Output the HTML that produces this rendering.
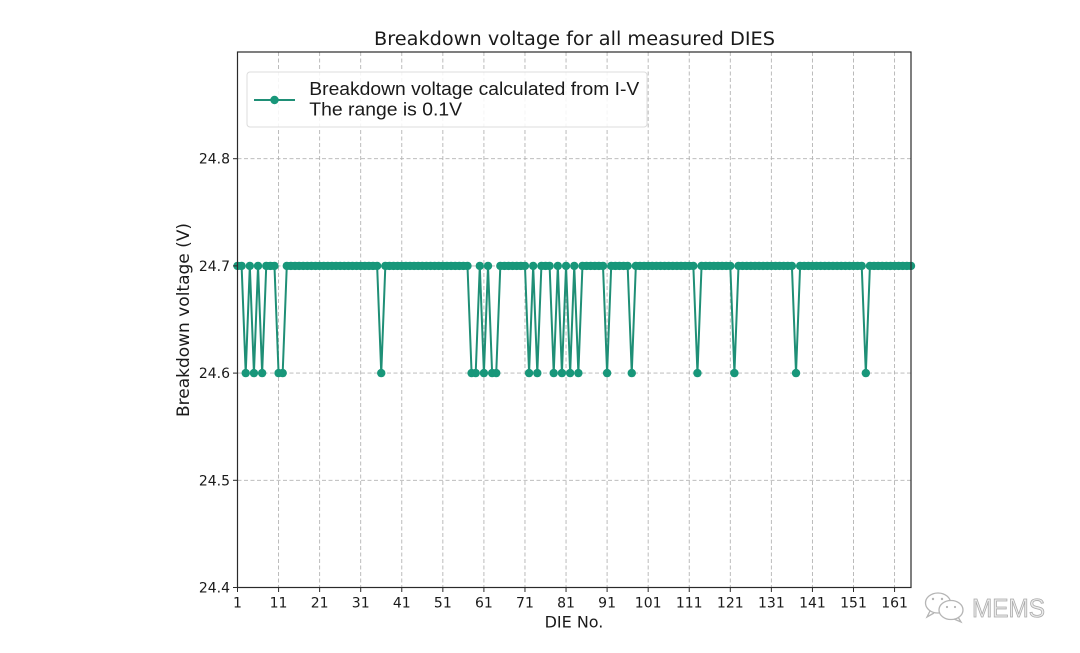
<!DOCTYPE html>
<html>
<head>
<meta charset="utf-8">
<style>
html,body{margin:0;padding:0;background:#fff;}
svg{display:block;}
text{font-family:"DejaVu Sans","Liberation Sans",sans-serif;fill:#1a1a1a;}
</style>
</head>
<body>
<svg width="1080" height="653" viewBox="0 0 1080 653" xmlns="http://www.w3.org/2000/svg">
<rect width="1080" height="653" fill="#fff"/>

<!-- grid -->
<g stroke="#b4b4b4" stroke-width="0.9" stroke-dasharray="4,2.5" fill="none">
  <line x1="237.5" y1="52" x2="237.5" y2="587.5"/>
  <line x1="278.57" y1="52" x2="278.57" y2="587.5"/>
  <line x1="319.63" y1="52" x2="319.63" y2="587.5"/>
  <line x1="360.70" y1="52" x2="360.70" y2="587.5"/>
  <line x1="401.77" y1="52" x2="401.77" y2="587.5"/>
  <line x1="442.84" y1="52" x2="442.84" y2="587.5"/>
  <line x1="483.90" y1="52" x2="483.90" y2="587.5"/>
  <line x1="524.97" y1="52" x2="524.97" y2="587.5"/>
  <line x1="566.04" y1="52" x2="566.04" y2="587.5"/>
  <line x1="607.10" y1="52" x2="607.10" y2="587.5"/>
  <line x1="648.17" y1="52" x2="648.17" y2="587.5"/>
  <line x1="689.24" y1="52" x2="689.24" y2="587.5"/>
  <line x1="730.30" y1="52" x2="730.30" y2="587.5"/>
  <line x1="771.37" y1="52" x2="771.37" y2="587.5"/>
  <line x1="812.44" y1="52" x2="812.44" y2="587.5"/>
  <line x1="853.51" y1="52" x2="853.51" y2="587.5"/>
  <line x1="894.57" y1="52" x2="894.57" y2="587.5"/>
  <line x1="237.5" y1="480.3" x2="911" y2="480.3"/>
  <line x1="237.5" y1="373.1" x2="911" y2="373.1"/>
  <line x1="237.5" y1="265.9" x2="911" y2="265.9"/>
  <line x1="237.5" y1="158.7" x2="911" y2="158.7"/>
</g>

<!-- data line -->
<polyline fill="none" stroke="#1f8f76" stroke-width="2" stroke-linejoin="round"
points="237.5,265.9 241.61,265.9 245.71,373.1 249.82,265.9 253.93,373.1 258.03,265.9 262.14,373.1 266.25,265.9 274.46,265.9 278.57,373.1 282.67,373.1 286.78,265.9 377.13,265.9 381.24,373.1 385.34,265.9 467.48,265.9 471.59,373.1 475.69,373.1 479.80,265.9 483.91,373.1 488.01,265.9 492.12,373.1 496.23,373.1 500.33,265.9 524.97,265.9 529.08,373.1 533.18,265.9 537.29,373.1 541.40,265.9 549.61,265.9 553.72,373.1 557.82,265.9 561.93,373.1 566.04,265.9 570.14,373.1 574.25,265.9 578.36,373.1 582.46,265.9 603.00,265.9 607.10,373.1 611.21,265.9 627.64,265.9 631.75,373.1 635.85,265.9 693.34,265.9 697.45,373.1 701.56,265.9 730.30,265.9 734.41,373.1 738.51,265.9 791.90,265.9 796.01,373.1 800.12,265.9 861.72,265.9 865.83,373.1 869.93,265.9 911.0,265.9"/>

<!-- solid band for high runs -->
<path fill="none" stroke="#18977a" stroke-width="7.6" stroke-linecap="round"
d="M237.5 265.9 H241.61
   M266.25 265.9 H274.46
   M286.78 265.9 H377.13
   M385.34 265.9 H467.48
   M500.33 265.9 H524.97
   M541.40 265.9 H549.61
   M582.46 265.9 H603.00
   M611.21 265.9 H627.64
   M635.85 265.9 H693.34
   M701.56 265.9 H730.30
   M738.51 265.9 H791.90
   M800.12 265.9 H861.72
   M869.93 265.9 H911.0"/>
<!-- high markers (runs) -->
<path fill="none" stroke="#18977a" stroke-width="8.4" stroke-linecap="round" stroke-dasharray="0.01,4.0967"
d="M237.5 265.9 H241.63
   M266.25 265.9 H274.48
   M286.78 265.9 H377.15
   M385.34 265.9 H467.50
   M500.33 265.9 H524.99
   M541.40 265.9 H549.63
   M582.46 265.9 H603.02
   M611.21 265.9 H627.66
   M635.85 265.9 H693.36
   M701.56 265.9 H730.32
   M738.51 265.9 H791.92
   M800.12 265.9 H861.74
   M869.93 265.9 H911.02"/>
<g fill="#18977a">
  <circle cx="249.82" cy="265.9" r="4.2"/>
  <circle cx="258.03" cy="265.9" r="4.2"/>
  <circle cx="479.80" cy="265.9" r="4.2"/>
  <circle cx="488.01" cy="265.9" r="4.2"/>
  <circle cx="533.18" cy="265.9" r="4.2"/>
  <circle cx="557.82" cy="265.9" r="4.2"/>
  <circle cx="566.04" cy="265.9" r="4.2"/>
  <circle cx="574.25" cy="265.9" r="4.2"/>
  <!-- low markers -->
  <circle cx="245.71" cy="373.1" r="4.2"/>
  <circle cx="253.93" cy="373.1" r="4.2"/>
  <circle cx="262.14" cy="373.1" r="4.2"/>
  <circle cx="278.57" cy="373.1" r="4.2"/>
  <circle cx="282.67" cy="373.1" r="4.2"/>
  <circle cx="381.24" cy="373.1" r="4.2"/>
  <circle cx="471.59" cy="373.1" r="4.2"/>
  <circle cx="475.69" cy="373.1" r="4.2"/>
  <circle cx="483.91" cy="373.1" r="4.2"/>
  <circle cx="492.12" cy="373.1" r="4.2"/>
  <circle cx="496.23" cy="373.1" r="4.2"/>
  <circle cx="529.08" cy="373.1" r="4.2"/>
  <circle cx="537.29" cy="373.1" r="4.2"/>
  <circle cx="553.72" cy="373.1" r="4.2"/>
  <circle cx="561.93" cy="373.1" r="4.2"/>
  <circle cx="570.14" cy="373.1" r="4.2"/>
  <circle cx="578.36" cy="373.1" r="4.2"/>
  <circle cx="607.10" cy="373.1" r="4.2"/>
  <circle cx="631.75" cy="373.1" r="4.2"/>
  <circle cx="697.45" cy="373.1" r="4.2"/>
  <circle cx="734.41" cy="373.1" r="4.2"/>
  <circle cx="796.01" cy="373.1" r="4.2"/>
  <circle cx="865.83" cy="373.1" r="4.2"/>
</g>

<!-- axes frame -->
<rect x="237.5" y="52" width="673.5" height="535.5" fill="none" stroke="#2a2a2a" stroke-width="1.2"/>

<!-- ticks -->
<g stroke="#2a2a2a" stroke-width="1">
  <line x1="237.5" y1="587.5" x2="237.5" y2="592"/>
  <line x1="278.57" y1="587.5" x2="278.57" y2="592"/>
  <line x1="319.63" y1="587.5" x2="319.63" y2="592"/>
  <line x1="360.70" y1="587.5" x2="360.70" y2="592"/>
  <line x1="401.77" y1="587.5" x2="401.77" y2="592"/>
  <line x1="442.84" y1="587.5" x2="442.84" y2="592"/>
  <line x1="483.90" y1="587.5" x2="483.90" y2="592"/>
  <line x1="524.97" y1="587.5" x2="524.97" y2="592"/>
  <line x1="566.04" y1="587.5" x2="566.04" y2="592"/>
  <line x1="607.10" y1="587.5" x2="607.10" y2="592"/>
  <line x1="648.17" y1="587.5" x2="648.17" y2="592"/>
  <line x1="689.24" y1="587.5" x2="689.24" y2="592"/>
  <line x1="730.30" y1="587.5" x2="730.30" y2="592"/>
  <line x1="771.37" y1="587.5" x2="771.37" y2="592"/>
  <line x1="812.44" y1="587.5" x2="812.44" y2="592"/>
  <line x1="853.51" y1="587.5" x2="853.51" y2="592"/>
  <line x1="894.57" y1="587.5" x2="894.57" y2="592"/>
  <line x1="233" y1="587.5" x2="237.5" y2="587.5"/>
  <line x1="233" y1="480.3" x2="237.5" y2="480.3"/>
  <line x1="233" y1="373.1" x2="237.5" y2="373.1"/>
  <line x1="233" y1="265.9" x2="237.5" y2="265.9"/>
  <line x1="233" y1="158.7" x2="237.5" y2="158.7"/>
</g>

<!-- x tick labels -->
<g font-size="14" text-anchor="middle">
  <text x="237.5" y="607.5">1</text>
  <text x="278.57" y="607.5">11</text>
  <text x="319.63" y="607.5">21</text>
  <text x="360.70" y="607.5">31</text>
  <text x="401.77" y="607.5">41</text>
  <text x="442.84" y="607.5">51</text>
  <text x="483.90" y="607.5">61</text>
  <text x="524.97" y="607.5">71</text>
  <text x="566.04" y="607.5">81</text>
  <text x="607.10" y="607.5">91</text>
  <text x="648.17" y="607.5">101</text>
  <text x="689.24" y="607.5">111</text>
  <text x="730.30" y="607.5">121</text>
  <text x="771.37" y="607.5">131</text>
  <text x="812.44" y="607.5">141</text>
  <text x="853.51" y="607.5">151</text>
  <text x="894.57" y="607.5">161</text>
</g>

<!-- y tick labels -->
<g font-size="14" text-anchor="end">
  <text x="230" y="592.5">24.4</text>
  <text x="230" y="485.3">24.5</text>
  <text x="230" y="378.1">24.6</text>
  <text x="230" y="270.9">24.7</text>
  <text x="230" y="163.7">24.8</text>
</g>

<!-- axis labels -->
<text x="574" y="627.7" font-size="16" text-anchor="middle">DIE No.</text>
<text transform="translate(189,320) rotate(-90)" font-size="17" text-anchor="middle">Breakdown voltage (V)</text>

<!-- title -->
<text x="574.5" y="45" font-size="18.5" text-anchor="middle" textLength="401" lengthAdjust="spacingAndGlyphs">Breakdown voltage for all measured DIES</text>

<!-- legend -->
<rect x="247" y="72" width="400" height="55" rx="3" fill="#fff" fill-opacity="0.85" stroke="#dcdcdc" stroke-width="1"/>
<line x1="254" y1="100" x2="295" y2="100" stroke="#1f8f76" stroke-width="2"/>
<circle cx="274.5" cy="100" r="4.2" fill="#18977a"/>
<text x="309.3" y="95" font-size="18.5" style="font-family:'Liberation Sans',Arial,sans-serif" textLength="330" lengthAdjust="spacingAndGlyphs">Breakdown voltage calculated from I-V</text>
<text x="309.3" y="115.7" font-size="18.5" style="font-family:'Liberation Sans',Arial,sans-serif" textLength="152.7" lengthAdjust="spacingAndGlyphs">The range is 0.1V</text>

<!-- watermark -->
<g fill="none" stroke="#b5b5b5" stroke-width="1.3">
  <ellipse cx="938" cy="603" rx="12.5" ry="10"/>
  <path d="M930 611 l-3 6 l7 -4"/>
  <ellipse cx="951" cy="610" rx="12" ry="9.5" fill="#fff"/>
  <path d="M958 617 l3 5 l-7 -3"/>
</g>
<g fill="#b5b5b5">
  <circle cx="933" cy="599" r="1.2"/>
  <circle cx="942" cy="599" r="1.2"/>
  <circle cx="947" cy="607" r="1.1"/>
  <circle cx="955" cy="607" r="1.1"/>
</g>
<text x="972" y="617" font-size="26" style="font-family:'Liberation Sans',Arial,sans-serif;fill:#ececec;stroke:#a9a9a9;stroke-width:0.8" textLength="73" lengthAdjust="spacingAndGlyphs">MEMS</text>
</svg>
</body>
</html>
